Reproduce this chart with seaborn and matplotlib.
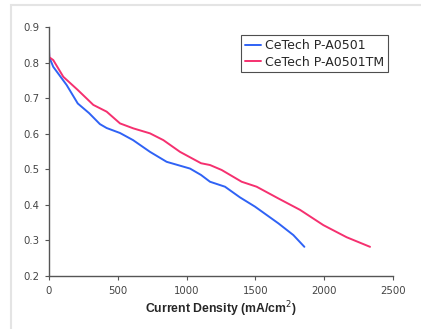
import pandas as pd
import matplotlib
matplotlib.use("Agg")
import matplotlib.pyplot as plt
import seaborn as sns
from matplotlib.patches import Rectangle

# ------------------------- Data ------------------------- #
blue_label = "CeTech P-A0501"
blue_x = [0, 2, 31, 128, 209, 291, 370, 419, 516, 611, 734, 855, 1025, 1105, 1170,
          1279, 1388, 1497, 1667, 1776, 1856]
blue_y = [0.85, 0.815, 0.788, 0.737, 0.685, 0.658, 0.627, 0.616, 0.602, 0.582, 0.549,
          0.521, 0.502, 0.484, 0.465, 0.451, 0.421, 0.395, 0.348, 0.315, 0.282]

pink_label = "CeTech P-A0501TM"
pink_x = [0, 2, 31, 104, 209, 322, 419, 516, 613, 734, 831, 952, 1105, 1170, 1255,
          1400, 1509, 1667, 1824, 1994, 2163, 2333]
pink_y = [0.83, 0.815, 0.807, 0.76, 0.723, 0.681, 0.662, 0.629, 0.615, 0.601, 0.582,
          0.549, 0.517, 0.512, 0.498, 0.465, 0.451, 0.418, 0.386, 0.343, 0.309, 0.282]

x_ticks = [0, 500, 1000, 1500, 2000, 2500]
y_ticks = [0.2, 0.3, 0.4, 0.5, 0.6, 0.7, 0.8, 0.9]

# ------------------------- Plot ------------------------- #
sns.set_theme(style="white")
plt.rcParams["font.family"] = ["DejaVu Sans"]

fig = plt.figure(figsize=(4.21, 3.29), dpi=100)
ax = fig.add_axes([49 / 421, 1 - 276 / 329, (393 - 49) / 421, (276 - 27) / 329])

# faint frame around the chart area
fig.add_artist(Rectangle((11 / 421, -0.1), 1.2, 1.1 - 5 / 329, transform=fig.transFigure,
                         fill=False, edgecolor="#e4e4e4", linewidth=1.5))

sns.lineplot(x=blue_x, y=blue_y, sort=False, color="#2f62f5", linewidth=1.4,
             label=blue_label, ax=ax)
sns.lineplot(x=pink_x, y=pink_y, sort=False, color="#f5306f", linewidth=1.4,
             label=pink_label, ax=ax)

ax.set_xlim(0, 2500)
ax.set_ylim(0.2, 0.9)
ax.set_xticks(x_ticks)
ax.set_yticks(y_ticks)
ax.set_yticklabels([f"{v:.1f}" for v in y_ticks])

for side in ["top", "right"]:
    ax.spines[side].set_visible(False)
for side in ["left", "bottom"]:
    ax.spines[side].set_color("#555555")
    ax.spines[side].set_linewidth(1.0)
ax.tick_params(axis="both", direction="out", length=3, width=0.8, color="#555555",
               labelsize=7.3, labelcolor="#444444", pad=4, bottom=True, left=True)

ax.set_xlabel("Current Density (mA/cm$^2$)", fontsize=8.8, fontweight="bold",
              family="Liberation Sans", labelpad=3)
ax.set_ylabel("")

leg = ax.legend(loc="upper left", bbox_to_anchor=(0.558, 0.967), fontsize=9,
                frameon=True, fancybox=False, handlelength=1.3, handletextpad=0.3,
                borderpad=0.3, labelspacing=0.3, borderaxespad=0)
leg.get_frame().set_edgecolor("#222222")
leg.get_frame().set_linewidth(0.8)

fig.savefig("out.png", dpi=100)
